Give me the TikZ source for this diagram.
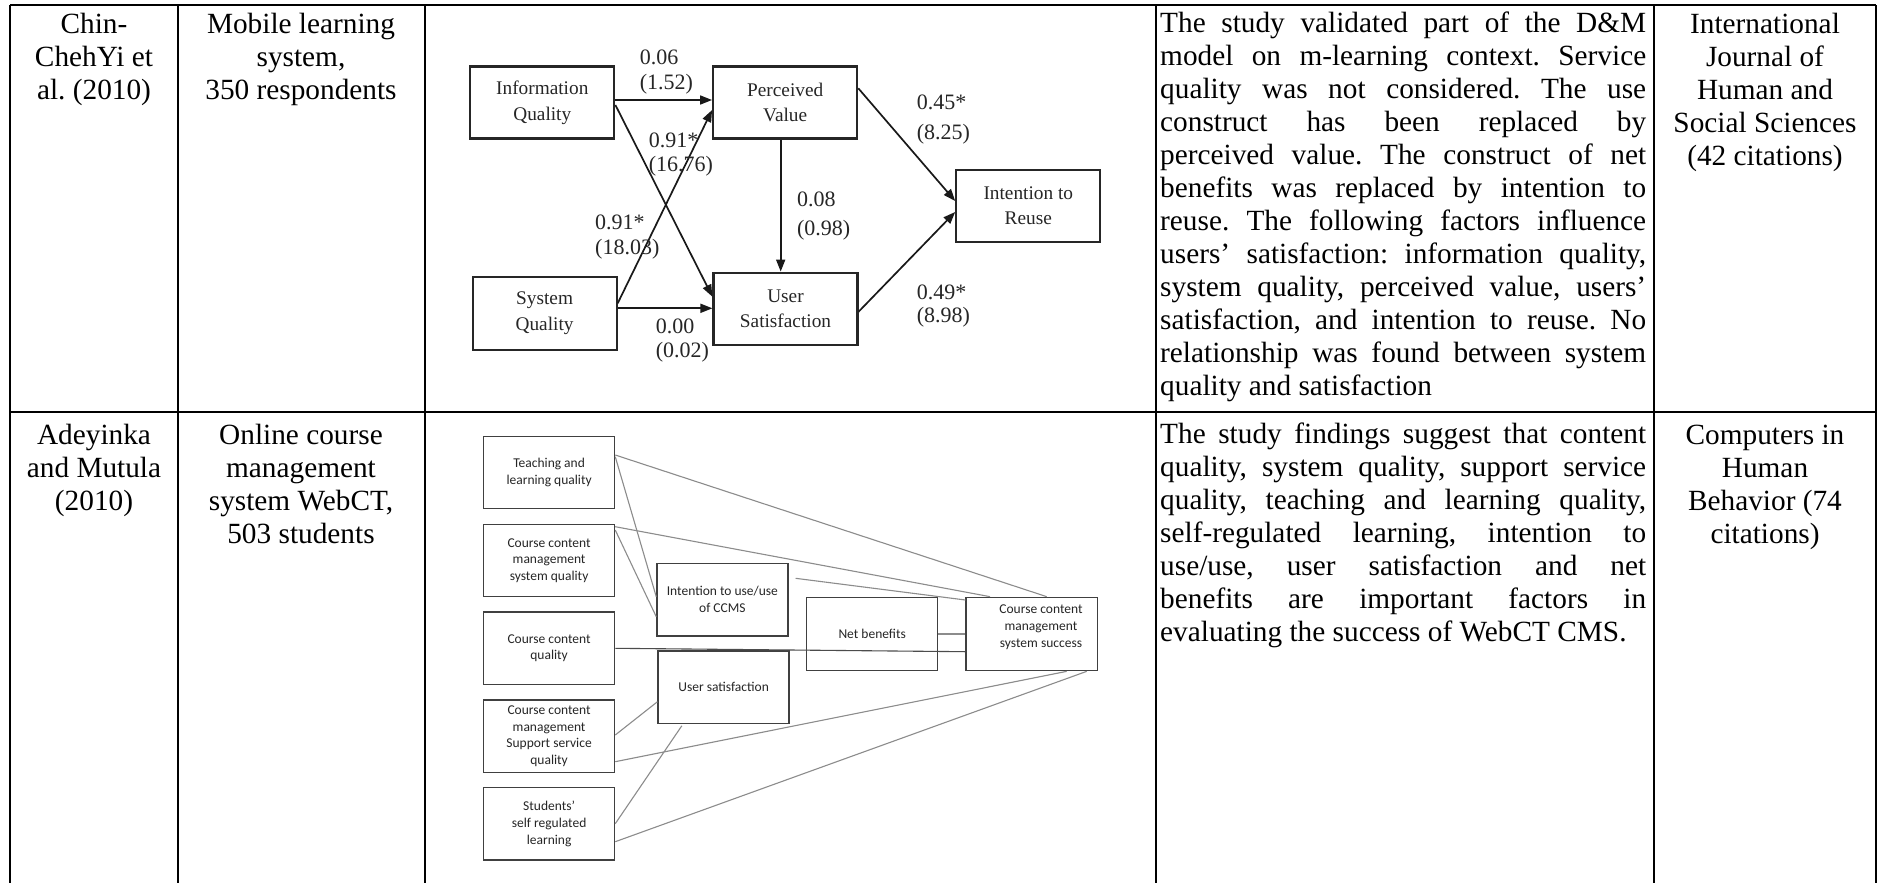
\documentclass[tikz,border=0pt]{standalone}
\usepackage{fontspec}
\setmainfont{Liberation Serif}
\newfontfamily\diagsans{Carlito}
\usetikzlibrary{arrows.meta,calc}
\frenchspacing

% fonts
\newcommand\tabfont{\fontsize{29.3}{33}\selectfont}
\newcommand\dfont{\fontsize{19.3}{25.7}\selectfont}
\newcommand\lfont{\fontsize{22}{26}\selectfont}
\newcommand\efont{\diagsans\fontsize{13.5}{16.7}\selectfont}
% one justified line of the findings column
\newcommand\jl[1]{\makebox[486pt][s]{#1}}

\tikzset{
  tabline/.style={line width=2pt, draw=black},
  cell/.style={anchor=north, inner sep=0pt, align=center, font=\tabfont},
  para/.style={anchor=north west, inner sep=0pt, align=left, font=\tabfont},
  dbox/.style={draw=black!85, line width=2.2pt, minimum width=144pt, minimum height=72pt,
               inner sep=0pt, align=center, font=\dfont, text=black!85},
  darr/.style={line width=1.7pt, draw=black!90, -{Triangle[length=12pt,width=9pt]}},
  dlab/.style={anchor=base west, inner sep=0pt, font=\lfont, text=black!85},
  ebox/.style={draw=black!75, line width=1.3pt, minimum width=131pt, minimum height=72.5pt,
               inner sep=0pt, align=center, font=\efont, text=black!85},
  eline/.style={draw=black!45, line width=1.1pt},
}

\begin{document}
\begin{tikzpicture}[x=1pt, y=-1pt]
\useasboundingbox (0,0) rectangle (1879,883);
\fill[white] (0,0) rectangle (1879,883);

% ---------------- table rules ----------------
\draw[tabline] (10,5.5) -- (1876,5.5);
\draw[tabline] (10,411.5) -- (1876,411.5);
\foreach \xx in {10,178,424.5,1156,1654,1876}
  \draw[tabline] (\xx,5.5) -- (\xx,883);

% ---------------- row 1 text ----------------
\node[cell] (aone) at (94,9.9) {\strut Chin-\\ChehYi et\\al. (2010)};
\node[cell] (sone) at (301,9.9) {\strut Mobile learning\\system,\\350 respondents};
\node[para] (fone) at (1160,8.9) {%
  \jl{\strut The study validated part of the D\&M}\\
  \jl{model on m-learning context. Service}\\
  \jl{quality was not considered. The use}\\
  \jl{construct has been replaced by}\\
  \jl{perceived value. The construct of net}\\
  \jl{benefits was replaced by intention to}\\
  \jl{reuse. The following factors influence}\\
  \jl{users’ satisfaction: information quality,}\\
  \jl{system quality, perceived value, users’}\\
  \jl{satisfaction, and intention to reuse. No}\\
  \jl{relationship was found between system}\\
  quality and satisfaction};
\node[cell] (jone) at (1765,9.9) {\strut International\\Journal of\\Human and\\Social Sciences\\(42 citations)};

% ---------------- row 2 text ----------------
\node[cell] (atwo) at (94,421.2) {\strut Adeyinka\\and Mutula\\(2010)};
\node[cell] (stwo) at (301,421.2) {\strut Online course\\management\\system WebCT,\\503 students};
\node[para] (ftwo) at (1160,420.2) {%
  \jl{\strut The study findings suggest that content}\\
  \jl{quality, system quality, support service}\\
  \jl{quality, teaching and learning quality,}\\
  \jl{self-regulated learning, intention to}\\
  \jl{use/use, user satisfaction and net}\\
  \jl{benefits are important factors in}\\
  evaluating the success of WebCT CMS.};
\node[cell] (jtwo) at (1765,421.2) {\strut Computers in\\Human\\Behavior (74\\citations)};

% ---------------- path model (row 1) ----------------
\node[dbox] (iq) at (542.3,102.5) {Information\\Quality};
\node[dbox] (pv) at (785.2,102.5) {Perceived\\Value};
\node[dbox, minimum height=73pt] (sq) at (544.6,313.3) {System\\Quality};
\node[dbox] (us) at (785.5,308.7) {User\\Satisfaction};
\node[dbox] (ir) at (1028.3,205.8) {Intention to\\Reuse};

\draw[darr] ([yshift=2.5pt]iq.east) -- ([yshift=2.5pt]iq.east -| pv.west);
\draw[darr] ([yshift=-2.5pt]iq.east) -- ([yshift=12pt]us.west);
\draw[darr] ([yshift=10pt]sq.east) -- ([yshift=-7.5pt]pv.west);
\draw[darr] ([yshift=5pt]sq.east) -- ([yshift=5pt]sq.east -| us.west);
\draw[darr] ([xshift=-4.5pt]pv.south) -- ([xshift=-4.5pt]pv.south |- us.north);
\draw[darr] ([yshift=14.2pt]pv.east) -- ([yshift=4.8pt]ir.west);
\draw[darr] ([yshift=-3pt]us.east) -- ([yshift=-6.2pt]ir.west);

\node[dlab] (la1) at (639.6,64.1) {0.06};
\node[dlab] (la2) at (639.6,89.1) {(1.52)};
\node[dlab] (lb1) at (648.6,147.4) {0.91*};
\node[dlab] (lb2) at (648.6,171.4) {(16.76)};
\node[dlab] (lc1) at (595,229.1) {0.91*};
\node[dlab] (lc2) at (595,254.1) {(18.03)};
\node[dlab] (ld1) at (796.8,206.7) {0.08};
\node[dlab] (ld2) at (796.8,235.7) {(0.98)};
\node[dlab] (le1) at (655.7,333.4) {0.00};
\node[dlab] (le2) at (655.7,357.4) {(0.02)};
\node[dlab] (lf1) at (916.7,109.1) {0.45*};
\node[dlab] (lf2) at (916.7,139.1) {(8.25)};
\node[dlab] (lg1) at (916.7,299.1) {0.49*};
\node[dlab] (lg2) at (916.7,322.4) {(8.98)};

% ---------------- success model (row 2) ----------------
\node[ebox] (tl) at (549.1,472.5) {Teaching and\\learning quality};
\node[ebox] (cq) at (549.1,560.5) {Course content\\management\\system quality};
\node[ebox] (cc) at (549.1,648.3) {Course content\\quality};
\node[ebox] (cs) at (549.1,736.2) {Course content\\management\\Support service\\quality};
\node[ebox] (sr) at (549.1,823.7) {Students’\\self regulated\\learning};
\node[ebox] (iu) at (722.4,599.7) {Intention to use/use\\of CCMS};
\node[ebox] (su) at (723.6,687.2) {User satisfaction};
\node[ebox, minimum height=73.4pt] (nb) at (872.2,634) {Net benefits};
\node[ebox, minimum height=73.4pt, minimum width=131.7pt] (ok) at (1031.9,634) {};
\node[font=\efont, align=center, text=black!85, inner sep=0pt] (oktext) at (1041,627)
  {Course content\\management\\system success};

\draw[eline] ([yshift=17.5pt]tl.east) -- ([xshift=14.8pt]ok.north);
\draw[eline] ([yshift=15.8pt]tl.east) -- ([yshift=3pt]iu.west);
\draw[eline] ([yshift=33.8pt]cq.east) -- ([xshift=-41.9pt]ok.north);
\draw[eline] ([yshift=30.5pt]cq.east) -- ([yshift=-17pt]iu.west);
\draw[eline] ([xshift=7pt,yshift=21.4pt]iu.east) -- ([yshift=34pt]ok.west);
\draw[eline] (nb.east) -- (ok.west);
\draw[eline, draw=black!70] (cc.east) -- ([yshift=-17.7pt]ok.west);
\draw[eline] ([yshift=-14.5pt]su.west) -- ([yshift=1.2pt]cs.east);
\draw[eline] ([xshift=-41.8pt,yshift=-1.7pt]su.south) -- (sr.east);
\draw[eline] ([yshift=-25.5pt]cs.east) -- ([xshift=34.8pt]ok.south);
\draw[eline] ([yshift=-18pt]sr.east) -- ([xshift=54.8pt]ok.south);
\end{tikzpicture}
\end{document}
